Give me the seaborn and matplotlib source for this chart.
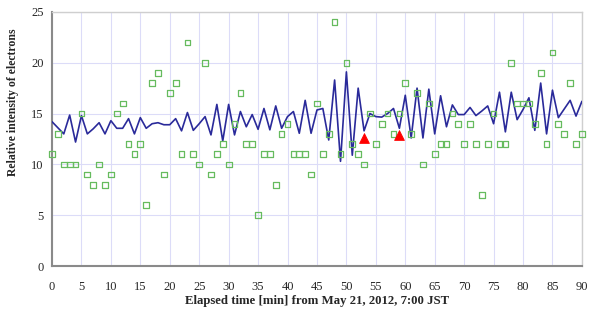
import numpy as np
import pandas as pd
import matplotlib
matplotlib.use('Agg')
import matplotlib.pyplot as plt
import seaborn as sns

# elapsed minutes
minutes = list(range(0, 91))

# observed counts (green squares)
observed = [11, 13, 10, 10, 10, 15, 9, 8, 10, 8,
            9, 15, 16, 12, 11, 12, 6, 18, 19, 9,
            17, 18, 11, 22, 11, 10, 20, 9, 11, 12,
            10, 14, 17, 12, 12, 5, 11, 11, 8, 13,
            14, 11, 11, 11, 9, 16, 11, 13, 24, 11,
            20, 12, 11, 10, 15, 12, 14, 15, 13, 15,
            18, 13, 17, 10, 16, 11, 12, 12, 15, 14,
            12, 14, 12, 7, 12, 15, 12, 12, 20, 16,
            16, 16, 14, 19, 12, 21, 14, 13, 18, 12,
            13]

# smoothed curve (blue line)
smoothed = [14.2, 13.6, 13.0, 14.85, 12.2, 14.8, 13.0, 13.5, 14.1, 13.0,
            14.3, 13.55, 13.55, 14.5, 13.0, 14.6, 13.55, 14.0, 14.1, 13.9,
            13.9, 14.5, 13.3, 15.1, 13.35, 14.0, 14.7, 12.9, 15.9, 12.3,
            15.9, 12.9, 15.2, 13.7, 14.9, 13.45, 15.5, 13.4, 15.75, 13.55,
            14.7, 15.2, 13.06, 16.3, 13.06, 15.35, 15.5, 12.4, 18.3, 10.3,
            19.1, 10.9, 17.5, 13.3, 15.0, 14.7, 14.65, 15.0, 15.5, 13.55,
            16.8, 12.6, 17.5, 12.6, 17.4, 13.0, 16.75, 13.7, 15.85, 14.9,
            14.9, 15.6, 14.8, 15.25, 15.75, 14.0, 17.1, 13.2, 17.1, 14.4,
            15.4, 16.55, 13.35, 18.0, 13.0, 17.3, 14.6, 15.45, 16.3, 14.75,
            16.2]

# events (red triangles)
event_minutes = [53, 59]
event_values = [12.6, 12.9]

df = pd.DataFrame({'minute': minutes, 'observed': observed, 'smoothed': smoothed})
ev = pd.DataFrame({'minute': event_minutes, 'value': event_values})

sns.set_style('white')
plt.rcParams['font.family'] = ['Liberation Serif', 'DejaVu Serif']

fig = plt.figure(figsize=(5.95, 3.13), dpi=100)
ax = fig.add_axes([0.0874, 0.150, 0.8906, 0.812])

sns.lineplot(data=df, x='minute', y='smoothed', color='#2a2a9a', linewidth=1.2, ax=ax, zorder=3)
sns.scatterplot(data=df, x='minute', y='observed', marker='s', s=17,
                facecolor='none', edgecolor='#66bb5e', linewidth=0.9, ax=ax,
                zorder=4, clip_on=False)
sns.scatterplot(data=ev, x='minute', y='value', marker='^', s=50,
                color='#ff0000', edgecolor='#ff0000', ax=ax, zorder=5)

ax.set_xlim(0, 90)
ax.set_ylim(0, 25)
ax.set_xticks(range(0, 91, 5))
ax.set_yticks(range(0, 26, 5))
ax.grid(True, color='#dcdcf8', linewidth=0.8)
ax.set_axisbelow(True)

for side in ['left', 'bottom']:
    ax.spines[side].set_color('#8a8a8a')
    ax.spines[side].set_linewidth(1.5)
for side in ['top', 'right']:
    ax.spines[side].set_color('#cfcfcf')
    ax.spines[side].set_linewidth(1.0)

ax.tick_params(axis='x', direction='inout', length=4, color='#8a8a8a', pad=9, labelsize=9)
ax.tick_params(axis='y', direction='in', length=3, color='#8a8a8a', pad=6, labelsize=9)

ax.set_xlabel('Elapsed time [min] from May 21, 2012, 7:00 JST', fontsize=9.2,
              fontweight='bold', labelpad=1)
ax.set_ylabel('Relative intensity of electrons', fontsize=8.5, fontweight='bold', labelpad=5)
ax.yaxis.set_label_coords(-0.062, 0.645)

fig.savefig('out.png', dpi=100)
